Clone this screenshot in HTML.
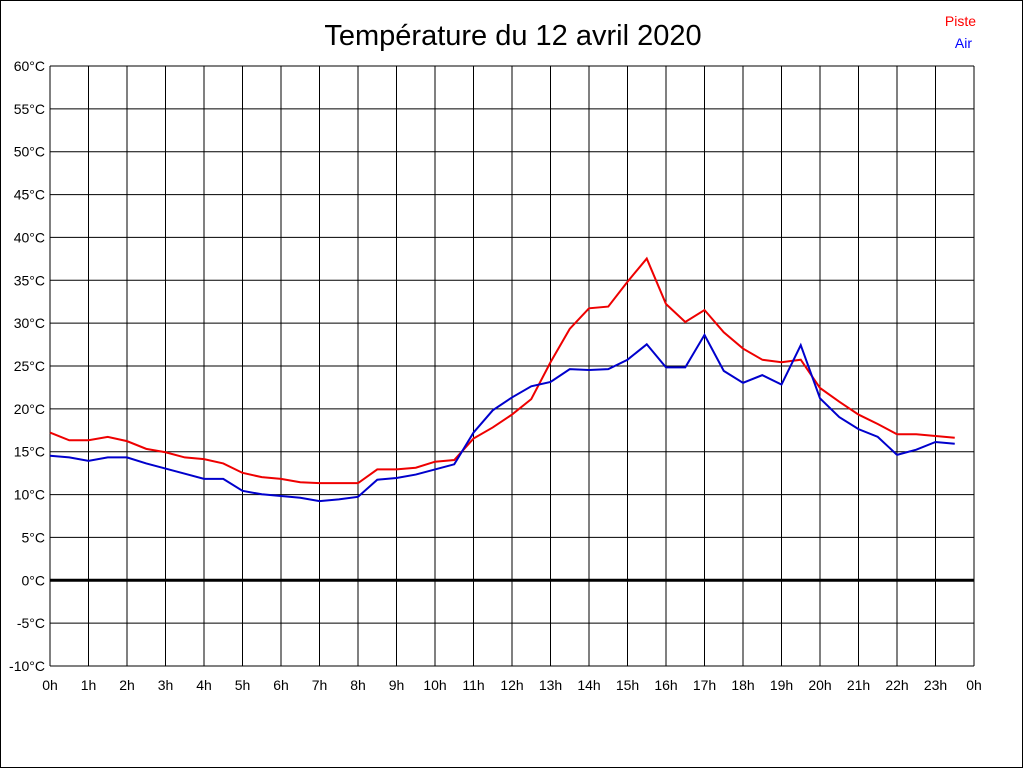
<!DOCTYPE html>
<html><head><meta charset="utf-8"><style>
html,body{margin:0;padding:0;background:#fff}
svg{display:block}
text{font-family:"Liberation Sans",Arial,sans-serif}
</style></head><body>
<svg id="s" width="1024" height="768" xmlns="http://www.w3.org/2000/svg">
<rect x="0.5" y="0.5" width="1022" height="767" fill="#fff" stroke="#000"/>
<text x="513" y="45" font-size="29" text-anchor="middle">Température du 12 avril 2020</text>
<text x="976" y="26" font-size="14" fill="#f00" text-anchor="end">Piste</text>
<text x="972" y="48" font-size="14" fill="#00f" text-anchor="end">Air</text>
<g id="g"></g>
</svg>
<script>
var g=document.getElementById('g'),h='';
function Y(v){return 580-v*600/70;}function X(t){return 50+t*38.5;}
for(var i=0;i<=14;i++){var v=60-5*i,y=66+i*600/14;
h+='<line x1="50" x2="974" y1="'+y+'" y2="'+y+'" stroke="#000" stroke-width="'+(v==0?3:1)+'"/>';
h+='<text x="45" y="'+(y+5)+'" font-size="14" text-anchor="end">'+v+'°C</text>';}
for(var i=0;i<=24;i++){var x=X(i);
h+='<line x1="'+x+'" x2="'+x+'" y1="66" y2="666" stroke="#000"/>';
h+='<text x="'+x+'" y="690" font-size="14" text-anchor="middle">'+(i%24)+'h</text>';}
var r=[17.2,16.3,16.3,16.7,16.2,15.3,14.9,14.3,14.1,13.6,12.5,12.0,11.8,11.4,11.3,11.3,11.3,12.9,12.9,13.1,13.8,14.0,16.5,17.8,19.3,21.1,25.4,29.3,31.7,31.9,34.8,37.5,32.2,30.1,31.5,28.9,27.0,25.7,25.4,25.7,22.4,20.8,19.3,18.2,17.0,17.0,16.8,16.6];
var b=[14.5,14.3,13.9,14.3,14.3,13.6,13.0,12.4,11.8,11.8,10.4,10.0,9.8,9.6,9.2,9.4,9.7,11.7,11.9,12.3,12.9,13.5,17.2,19.8,21.3,22.6,23.1,24.6,24.5,24.6,25.7,27.5,24.8,24.8,28.6,24.4,23.0,23.9,22.8,27.4,21.2,19.0,17.6,16.7,14.6,15.2,16.1,15.9];
function pl(a,c){return '<polyline fill="none" stroke="'+c+'" stroke-width="2" points="'+a.map(function(v,i){return X(i/2)+','+Y(v)}).join(' ')+'"/>';}
h+=pl(r,'#e00')+pl(b,'#00c');
g.innerHTML=h;
</script>
</body></html>
